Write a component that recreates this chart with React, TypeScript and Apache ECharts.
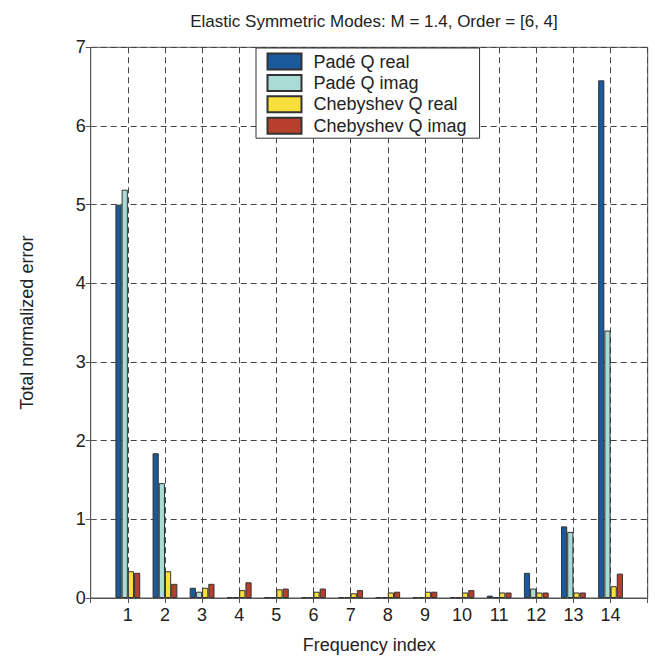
import React, { useEffect, useRef } from "react";
import * as echarts from "echarts";

const frequencyIndex = [1, 2, 3, 4, 5, 6, 7, 8, 9, 10, 11, 12, 13, 14];
const padeReal = [5.0, 1.84, 0.13, 0.01, 0.01, 0.01, 0.01, 0.01, 0.01, 0.01, 0.03, 0.32, 0.91, 6.58];
const padeImag = [5.19, 1.46, 0.08, 0.01, 0.01, 0.01, 0.01, 0.01, 0.01, 0.01, 0.01, 0.12, 0.84, 3.4];
const chebReal = [0.34, 0.34, 0.13, 0.1, 0.11, 0.08, 0.06, 0.07, 0.08, 0.07, 0.07, 0.07, 0.07, 0.15];
const chebImag = [0.32, 0.18, 0.18, 0.2, 0.12, 0.12, 0.1, 0.08, 0.08, 0.1, 0.07, 0.07, 0.07, 0.31];
const seriesNames = ["Padé Q real", "Padé Q imag", "Chebyshev Q real", "Chebyshev Q imag"];
const seriesColors = ["#1a5a9c", "#a9dcd4", "#f8df3c", "#b7402d"];

const FONT = "'Liberation Sans', Arial, Helvetica, sans-serif";

export default function App() {
  const ref = useRef<HTMLDivElement>(null);

  useEffect(() => {
    if (!ref.current) return;
    const chart = echarts.init(ref.current, undefined, { renderer: "svg" });
    const allValues = [padeReal, padeImag, chebReal, chebImag];
    const gridLine = { show: true, lineStyle: { color: "#444", width: 1, type: [6, 4] as any } };
    const option: any = {
      animation: false,
      backgroundColor: "#ffffff",
      textStyle: { fontFamily: FONT },
      title: {
        text: "Elastic Symmetric Modes: M = 1.4, Order = [6, 4]",
        left: 369,
        textAlign: "center",
        top: 8,
        textStyle: { fontSize: 17, fontWeight: "normal", color: "#222", fontFamily: FONT },
      },
      legend: {
        orient: "vertical",
        left: 256,
        top: 48,
        padding: [4.5, 13, 3.5, 10.5],
        itemWidth: 34,
        itemHeight: 16,
        itemGap: 3.4,
        icon: "rect",
        backgroundColor: "#ffffff",
        borderColor: "#333",
        borderWidth: 1,
        borderRadius: 0,
        textStyle: { fontSize: 18, lineHeight: 18, color: "#222", fontFamily: FONT, padding: [0, 0, 0, 7] },
        data: seriesNames,
      },
      grid: {
        left: 90.7,
        right: 7.3,
        top: 47.3,
        bottom: 56.6,
        show: true,
        borderColor: "#555",
        borderWidth: 1,
        backgroundColor: "transparent",
      },
      xAxis: [
        {
          type: "value",
          min: 0,
          max: 15,
          interval: 1,
          name: "Frequency index",
          nameLocation: "middle",
          nameGap: 38,
          nameTextStyle: { fontSize: 18, color: "#222", fontFamily: FONT },
          axisLine: { show: true, lineStyle: { color: "#555" } },
          axisTick: { show: true, inside: true, length: 5, lineStyle: { color: "#555" } },
          axisLabel: {
            fontSize: 18,
            color: "#222",
            margin: 8,
            fontFamily: FONT,
            formatter: (v: number) => (v >= 1 && v <= 14 ? String(v) : ""),
          },
          splitLine: gridLine,
        },
        {
          type: "value",
          position: "top",
          min: 0,
          max: 15,
          interval: 1,
          axisLine: { show: false },
          axisTick: { show: true, inside: true, length: 5, lineStyle: { color: "#555" } },
          axisLabel: { show: false },
          splitLine: { show: false },
        },
      ],
      yAxis: [
        {
          type: "value",
          min: 0,
          max: 7,
          interval: 1,
          name: "Total normalized error",
          nameLocation: "middle",
          nameGap: 55,
          nameTextStyle: { fontSize: 18, color: "#222", fontFamily: FONT },
          axisLine: { show: true, lineStyle: { color: "#555" } },
          axisTick: { show: true, inside: true, length: 5, lineStyle: { color: "#555" } },
          axisLabel: { fontSize: 18, color: "#222", margin: 5, fontFamily: FONT },
          splitLine: gridLine,
        },
        {
          type: "value",
          position: "right",
          min: 0,
          max: 7,
          interval: 1,
          axisLine: { show: false },
          axisTick: { show: true, inside: true, length: 5, lineStyle: { color: "#555" } },
          axisLabel: { show: false },
          splitLine: { show: false },
        },
      ],
      series: seriesNames.map((name, i) => ({
        name,
        type: "bar",
        xAxisIndex: 0,
        yAxisIndex: 0,
        barWidth: 6.2,
        barGap: "0%",
        itemStyle: { color: seriesColors[i], borderColor: "#333", borderWidth: 1 },
        data: frequencyIndex.map((x, k) => [x, allValues[i][k]]),
      })),
    };
    chart.setOption(option);
    return () => chart.dispose();
  }, []);

  return (
    <div
      ref={ref}
      style={{ position: "fixed", left: 0, top: 0, width: 655, height: 659, background: "#fff" }}
    />
  );
}
